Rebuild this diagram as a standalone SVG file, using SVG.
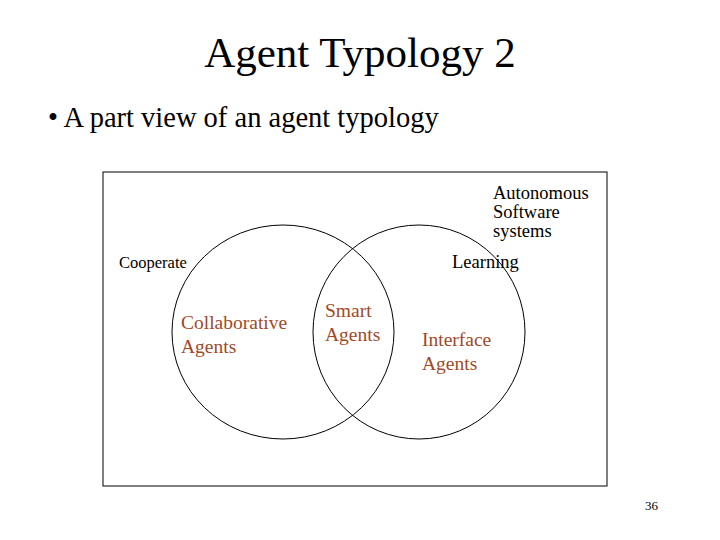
<svg xmlns="http://www.w3.org/2000/svg" width="720" height="540" viewBox="0 0 720 540">
<style>
text{font-family:"Liberation Serif","Times New Roman",serif;fill:#000}
.b{fill:#a04a28;font-size:19.5px}
.s{font-size:18.5px}
.c{fill:none;stroke:#000;stroke-width:1}
</style>
<rect width="720" height="540" fill="#fff"/>
<text x="360" y="67" font-size="43" text-anchor="middle">Agent Typology 2</text>
<text x="48" y="127" font-size="28.5">• A part view of an agent typology</text>
<rect x="103" y="172" width="504" height="314" class="c"/>
<g id="sets">
<ellipse id="cooperate-set" cx="283" cy="332" rx="111" ry="107" class="c"/>
<ellipse id="learning-set" cx="419" cy="332" rx="106" ry="107" class="c"/>
</g>
<g id="labels">
<text class="s" x="493" y="199">Autonomous</text>
<text class="s" x="493" y="218">Software</text>
<text class="s" x="493" y="237">systems</text>
<text x="119" y="268" font-size="16.5">Cooperate</text>
<text class="s" x="452" y="268">Learning</text>
<text class="b" x="181" y="329">Collaborative</text>
<text class="b" x="181" y="353">Agents</text>
<text class="b" x="325" y="317">Smart</text>
<text class="b" x="325" y="341">Agents</text>
<text class="b" x="422" y="346">Interface</text>
<text class="b" x="422" y="370">Agents</text>
</g>
<text x="645" y="510" font-size="13">36</text>
</svg>
